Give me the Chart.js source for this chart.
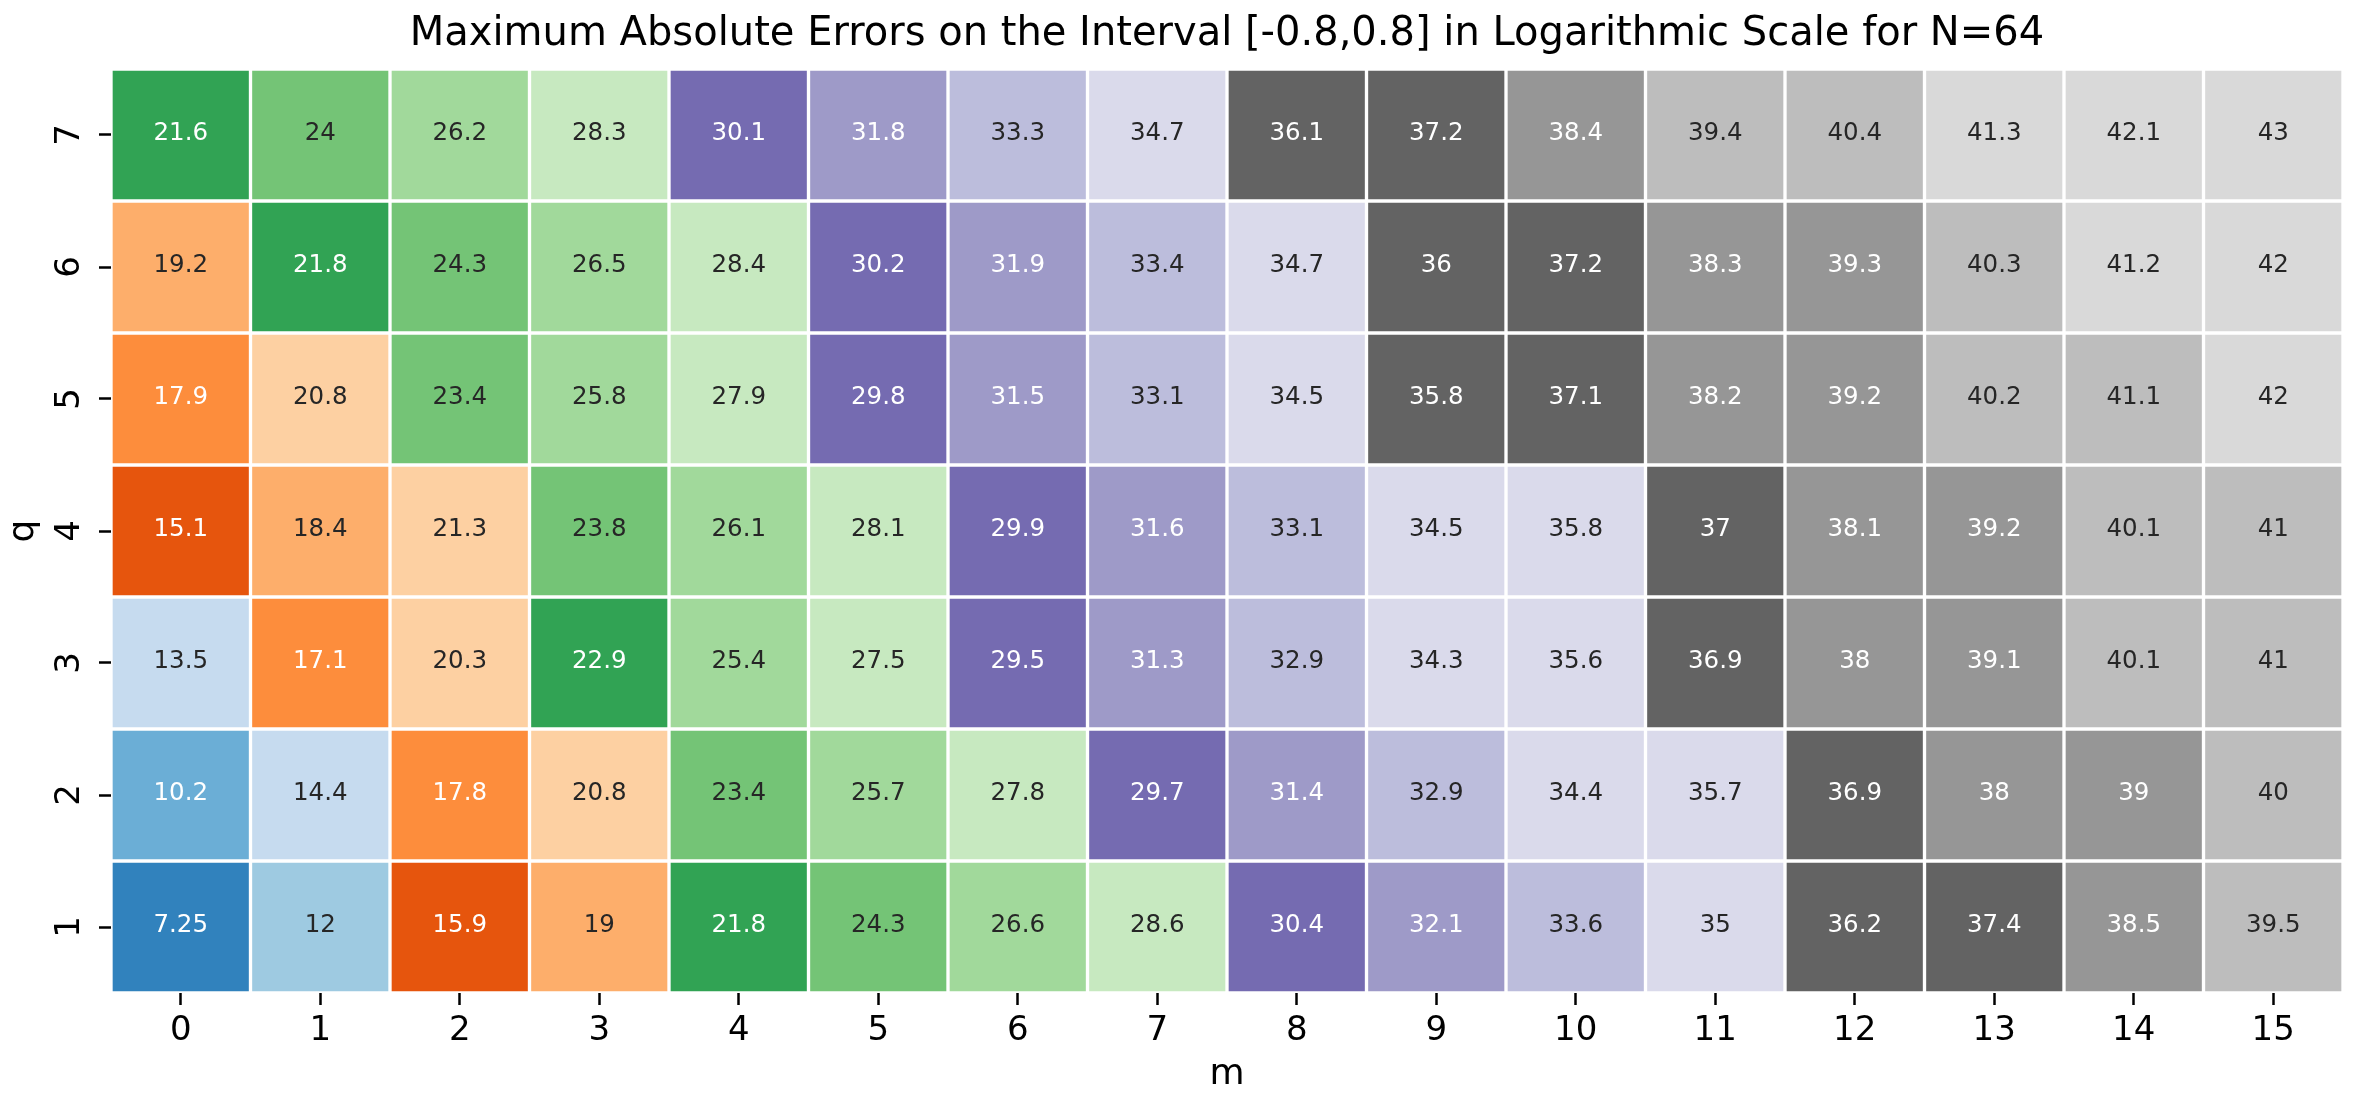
<!DOCTYPE html>
<html>
<head>
<meta charset="utf-8">
<title>Maximum Absolute Errors heatmap</title>
<script src="https://cdn.jsdelivr.net/npm/chart.js@4.4.0/dist/chart.umd.min.js"></script>
<style>
  html, body { margin: 0; padding: 0; background: #fff; }
  canvas { display: block; }
</style>
</head>
<body>
<canvas id="heatmap" width="2359" height="1108"></canvas>
<script>
// m on the x axis, q on the y axis
var mLabels = [0, 1, 2, 3, 4, 5, 6, 7, 8, 9, 10, 11, 12, 13, 14, 15];
var qLabels = [1, 2, 3, 4, 5, 6, 7];

// one row per q (q = 1 .. 7), values shown in the cells
var errQ1 = [7.25, 12, 15.9, 19, 21.8, 24.3, 26.6, 28.6, 30.4, 32.1, 33.6, 35, 36.2, 37.4, 38.5, 39.5];
var errQ2 = [10.2, 14.4, 17.8, 20.8, 23.4, 25.7, 27.8, 29.7, 31.4, 32.9, 34.4, 35.7, 36.9, 38, 39, 40];
var errQ3 = [13.5, 17.1, 20.3, 22.9, 25.4, 27.5, 29.5, 31.3, 32.9, 34.3, 35.6, 36.9, 38, 39.1, 40.1, 41];
var errQ4 = [15.1, 18.4, 21.3, 23.8, 26.1, 28.1, 29.9, 31.6, 33.1, 34.5, 35.76, 37, 38.1, 39.2, 40.1, 41];
var errQ5 = [17.9, 20.8, 23.4, 25.8, 27.9, 29.8, 31.5, 33.1, 34.5, 35.84, 37.1, 38.2, 39.2, 40.2, 41.1, 42];
var errQ6 = [19.2, 21.8, 24.3, 26.5, 28.4, 30.2, 31.9, 33.4, 34.7, 36, 37.2, 38.3, 39.3, 40.3, 41.2, 42];
var errQ7 = [21.6, 24, 26.2, 28.3, 30.1, 31.8, 33.3, 34.7, 36.1, 37.2, 38.4, 39.4, 40.4, 41.3, 42.1, 43];
var errors = [errQ1, errQ2, errQ3, errQ4, errQ5, errQ6, errQ7];

// tab20c, split into 20 equal bins
var tab20c = [
  '#3182bd', '#6baed6', '#9ecae1', '#c6dbef',
  '#e6550d', '#fd8d3c', '#fdae6b', '#fdd0a2',
  '#31a354', '#74c476', '#a1d99b', '#c7e9c0',
  '#756bb1', '#9e9ac8', '#bcbddc', '#dadaeb',
  '#636363', '#969696', '#bdbdbd', '#d9d9d9'
];
var colorMin = 7.26;
var colorStep = 1.7855;

var FONT = "'DejaVu Sans', sans-serif";

function cellColor(v) {
  var k = Math.floor((v - colorMin) / colorStep);
  if (k < 0) k = 0;
  if (k > tab20c.length - 1) k = tab20c.length - 1;
  return tab20c[k];
}

function luminance(hex) {
  var c = [1, 3, 5].map(function (i) {
    var s = parseInt(hex.substr(i, 2), 16) / 255;
    return s <= 0.03928 ? s / 12.92 : Math.pow((s + 0.055) / 1.055, 2.4);
  });
  return 0.2126 * c[0] + 0.7152 * c[1] + 0.0722 * c[2];
}

function fmt(v) {
  return String(Number(v.toPrecision(3)));
}

var cellLabels = {
  id: 'cellLabels',
  afterDatasetsDraw: function (chart) {
    var ctx = chart.ctx;
    ctx.save();
    ctx.font = '24.5px ' + FONT;
    ctx.textAlign = 'center';
    ctx.textBaseline = 'middle';
    chart.data.datasets.forEach(function (ds, i) {
      chart.getDatasetMeta(i).data.forEach(function (bar, j) {
        var v = errors[i][j];
        ctx.fillStyle = luminance(cellColor(v)) > 0.408 ? '#262626' : '#ffffff';
        ctx.fillText(fmt(v), bar.x, (bar.y + bar.base) / 2 - 1.5);
      });
    });
    ctx.restore();
  }
};

var datasets = qLabels.map(function (q, i) {
  return {
    label: 'q=' + q,
    data: errors[i].map(function () { return [q - 0.5, q + 0.5]; }),
    backgroundColor: errors[i].map(cellColor),
    borderColor: '#ffffff',
    borderWidth: 2,
    borderSkipped: false,
    grouped: false,
    barPercentage: 1,
    categoryPercentage: 1
  };
});

var tickGrid = {
  display: true,
  drawOnChartArea: false,
  drawTicks: true,
  tickLength: 12,
  tickWidth: 2.5,
  tickColor: '#000',
  offset: false
};

document.addEventListener('DOMContentLoaded', function () {
  Chart.defaults.font.family = FONT;
  var ctx = document.getElementById('heatmap').getContext('2d');
  new Chart(ctx, {
    type: 'bar',
    data: { labels: mLabels.map(String), datasets: datasets },
    options: {
      responsive: false,
      devicePixelRatio: 1,
      animation: false,
      layout: { padding: { left: 0, right: 16, top: 0, bottom: 0 } },
      plugins: {
        legend: { display: false },
        tooltip: { enabled: false },
        title: {
          display: true,
          fullSize: false,
          text: 'Maximum Absolute Errors on the Interval [-0.8,0.8] in Logarithmic Scale for N=64',
          color: '#000',
          font: { size: 40, weight: 'normal' },
          padding: { top: 11, bottom: 10 }
        }
      },
      scales: {
        x: {
          type: 'category',
          offset: true,
          grid: tickGrid,
          border: { display: false },
          ticks: { color: '#000', font: { size: 34 }, padding: 6, maxRotation: 0, autoSkip: false },
          title: { display: true, text: 'm', color: '#000', font: { size: 36 }, padding: { top: 0, bottom: 12 } },
          afterFit: function (scale) { scale.height = 115; }
        },
        y: {
          type: 'linear',
          min: 0.5,
          max: 7.5,
          afterBuildTicks: function (scale) {
            scale.ticks = qLabels.map(function (v) { return { value: v }; });
          },
          grid: tickGrid,
          border: { display: false },
          ticks: { color: '#000', font: { size: 34 }, padding: 18, minRotation: 90, maxRotation: 90, crossAlign: 'center' },
          title: { display: true, text: 'q', color: '#000', font: { size: 36 }, padding: { top: 1.6, bottom: 0 } },
          afterFit: function (scale) { scale.width = 111; }
        }
      }
    },
    plugins: [cellLabels]
  });
});
</script>
</body>
</html>
